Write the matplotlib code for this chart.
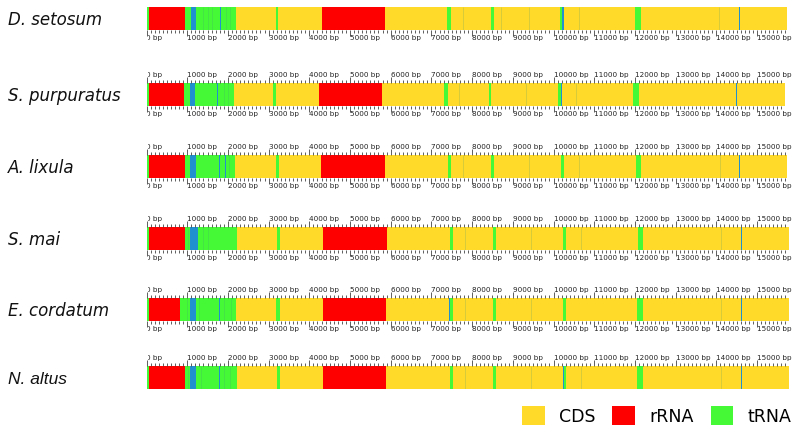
import numpy as np
import matplotlib
matplotlib.use("Agg")
import matplotlib.pyplot as plt
from matplotlib.patches import Patch
from matplotlib.transforms import Bbox, TransformedBbox

# ---------------- data ----------------
species = ["D. setosum", "S. purpuratus", "A. lixula", "S. mai", "E. cordatum", "N. altus"]
genome_len = [15740, 15680, 15740, 15780, 15780, 15780]

rrna_regions = [
    [(55, 950), (4310, 5850)],
    [(55, 915), (4235, 5780)],
    [(55, 935), (4290, 5850)],
    [(55, 950), (4330, 5905)],
    [(55, 835), (4325, 5890)],
    [(55, 935), (4325, 5890)],
]
trna_regions = [
    [(0, 55), (950, 1100), (1220, 2200), (3170, 3240), (7390, 7490), (8470, 8530), (10170, 10250), (12010, 12150)],
    [(0, 55), (915, 1060), (1180, 2160), (3105, 3185), (7320, 7420), (8410, 8470), (10120, 10200), (11950, 12095)],
    [(0, 55), (935, 1080), (1220, 2185), (3170, 3245), (7405, 7485), (8470, 8550), (10190, 10270), (12015, 12155)],
    [(0, 55), (950, 1080), (1260, 2230), (3210, 3290), (7445, 7525), (8525, 8590), (10230, 10310), (12070, 12210)],
    [(0, 55), (835, 1080), (1205, 2200), (3185, 3270), (7445, 7525), (8525, 8590), (10230, 10310), (12055, 12195)],
    [(0, 55), (935, 1080), (1205, 2215), (3195, 3270), (7445, 7525), (8525, 8590), (10230, 10310), (12055, 12195)],
]
other_regions = [
    [(1100, 1220), (1795, 1830), (10220, 10250), (14560, 14585)],
    [(1060, 1180), (1740, 1760), (10185, 10205), (14490, 14515)],
    [(1080, 1220), (1785, 1800), (1935, 1950), (10250, 10270), (14555, 14580)],
    [(1080, 1260), (1850, 1865), (14610, 14635)],
    [(1080, 1205), (1785, 1800), (7440, 7455), (14610, 14635)],
    [(1080, 1205), (1785, 1800), (10240, 10260), (14610, 14635)],
]
boundaries = [
    [1380, 1500, 1620, 1960, 2060, 7770, 8700, 9390, 10620, 14060],
    [1915, 2000, 7690, 9330, 10560],
    [2020, 7775, 9390, 10620, 14080],
    [1010, 1385, 1505, 7830, 9450, 10680, 14120],
    [1000, 1300, 1915, 2080, 7830, 9450, 14120],
    [1010, 1340, 1915, 2050, 7830, 9450, 10680, 14120],
]
legend_labels = ["CDS", "rRNA", "tRNA"]

# ---------------- style ----------------
C_CDS = "#FFDA29"
C_RRNA = "#FF0000"
C_TRNA = "#46F936"
C_OTHER = "#2190CF"
C_EDGE = "#3a8f7f"

W, H = 800, 436
fig = plt.figure(figsize=(W / 100, H / 100), dpi=100)

bar_tops = [7, 83, 155, 227, 298, 366]
bar_h = 23
x0 = 146.5
ppb = 0.0407
XMAX = 16000

for i, name in enumerate(species):
    L = genome_len[i]
    top = bar_tops[i]
    ax = fig.add_axes([x0 / W, 1 - (top + bar_h) / H, XMAX * ppb / W, bar_h / H])
    ax.set_xlim(0, XMAX)
    ax.set_ylim(0, 1)
    for s in ax.spines.values():
        s.set_visible(False)
    ax.set_yticks([])

    ax.broken_barh([(0, L)], (0, 1), facecolors=C_CDS, edgecolor="none")
    ax.broken_barh([(a, b - a) for a, b in rrna_regions[i]], (0, 1), facecolors=C_RRNA, edgecolor="none")
    ax.broken_barh([(a, b - a) for a, b in trna_regions[i]], (0, 1), facecolors=C_TRNA, edgecolor="none")
    ax.broken_barh([(a, b - a) for a, b in other_regions[i]], (0, 1), facecolors=C_OTHER, edgecolor="none")
    ax.vlines(boundaries[i], 0, 1, colors=C_EDGE, alpha=0.2, linewidth=0.7)

    major = np.arange(0, L + 1, 1000)
    minor = np.arange(0, L + 1, 100)
    ax.set_xticks(major)
    ax.set_xticks(minor, minor=True)
    ax.set_xticklabels([f"{v} bp" for v in major], ha="left")

    has_top = i > 0
    has_bottom = i < len(species) - 1
    ax.tick_params(axis="x", which="both", top=has_top, bottom=has_bottom,
                   labeltop=has_top, labelbottom=has_bottom, direction="out",
                   color="#444444", width=0.6, labelsize=5.2, labelcolor="#222222")
    ax.tick_params(axis="x", which="major", length=4.3, pad=-0.7)
    ax.tick_params(axis="x", which="minor", length=2.5)

    clip = TransformedBbox(Bbox.from_extents(148.0 / W, 0, 1, 1), fig.transFigure)
    t0 = ax.xaxis.get_major_ticks()[0]
    for lbl in (t0.label1, t0.label2):
        lbl.set_clip_on(True)
        lbl.set_clip_box(clip)

    if name == "N. altus":
        fam, fs = "Liberation Sans", 12.5
    else:
        fam, fs = "DejaVu Sans", 12
    fig.text(8 / W, 1 - (top + bar_h / 2 + 1.5) / H, name, ha="left", va="center",
             style="italic", fontsize=fs, family=fam, color="#111111")

handles = [Patch(facecolor=c, edgecolor="none", label=l)
           for c, l in zip([C_CDS, C_RRNA, C_TRNA], legend_labels)]
fig.legend(handles=handles, loc="center right", bbox_to_anchor=(791 / W, 20 / H),
           ncol=3, frameon=False, fontsize=12.5, handlelength=1.3, handleheight=1.3,
           handletextpad=0.8, columnspacing=1.0, borderpad=0, borderaxespad=0)

fig.savefig("out.png", dpi=100)
